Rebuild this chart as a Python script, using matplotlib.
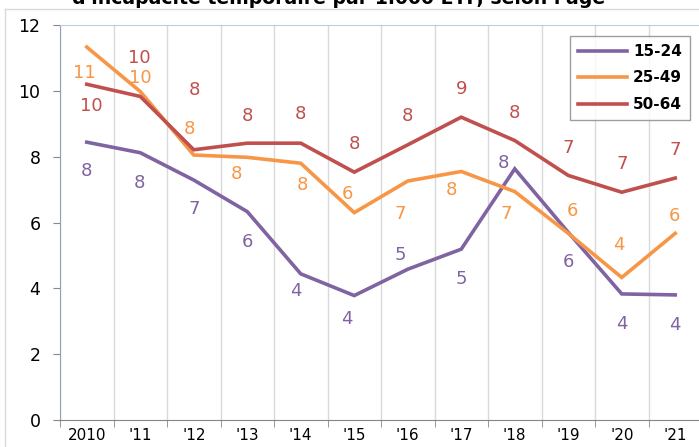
import matplotlib
matplotlib.use("Agg")
import matplotlib.pyplot as plt
from matplotlib.lines import Line2D
import numpy as np

# ---- data ----
years = ["2010", "'11", "'12", "'13", "'14", "'15", "'16", "'17", "'18", "'19", "'20", "'21"]
series_names = ["15-24", "25-49", "50-64"]
v_15_24 = [8.44, 8.12, 7.29, 6.33, 4.44, 3.78, 4.58, 5.19, 7.63, 5.70, 3.83, 3.80]
v_25_49 = [11.33, 9.98, 8.05, 7.98, 7.80, 6.30, 7.26, 7.55, 6.94, 5.67, 4.33, 5.67]
v_50_64 = [10.20, 9.83, 8.21, 8.41, 8.41, 7.53, 8.36, 9.20, 8.49, 7.43, 6.92, 7.35]
title = "d'incapacité temporaire par 1.000 ETP, selon l'âge"

# ---- style / layout ----
colors = ["#8064A2", "#F79646", "#C0504D"]
# label offsets in pixels (dx right, dy down)
off_15_24 = [(0, 29), (-1, 30), (0, 29), (0, 30), (-5, 17), (-7, 23), (-7, -14), (0, 30),
             (-11, -6), (0, 30), (0, 30), (0, 30)]
off_25_49 = [(-2, 26), (0, -13), (-4, -26), (-11, 17), (2, 22), (-7, -19), (-8, 33), (-10, 19),
             (-9, 22), (4, -22), (-3, -32), (-1, -17)]
off_50_64 = [(5, 22), (-1, -38), (1, -60), (0, -27), (0, -29), (0, -28), (0, -29), (0, -28),
             (0, -28), (0, -27), (0, -28), (0, -28)]

W, H = 699, 447
fig = plt.figure(figsize=(W / 100, H / 100), dpi=100)
ax = fig.add_axes([60 / W, 1 - 420 / H, 642 / W, 395 / H])

x = np.arange(len(years))
all_vals = [v_15_24, v_25_49, v_50_64]
all_offs = [off_15_24, off_25_49, off_50_64]
for name, vals, col, offs in zip(series_names, all_vals, colors, all_offs):
    ax.plot(x, vals, color=col, lw=2.6, label=name, solid_joinstyle="miter", zorder=3)
    for xi, v, (dx, dy) in zip(x, vals, offs):
        ax.annotate(f"{v:.0f}", (xi, v), xytext=(dx, -dy), textcoords="offset pixels",
                    ha="center", va="center", color=col, fontsize=13, zorder=4)

ax.set_xlim(-0.5, len(years) - 0.5)
ax.set_ylim(0, 12)
ax.set_yticks(range(0, 13, 2))
ax.set_xticks(x)
ax.set_xticklabels(years)
ax.set_xticks(np.arange(-0.5, len(years), 1.0), minor=True)
ax.grid(which="minor", axis="x", color="#D9D9D9", lw=1)
ax.tick_params(axis="x", which="major", length=0, labelsize=11, pad=6)
ax.tick_params(axis="x", which="minor", length=5, color="#868686", direction="out")
ax.tick_params(axis="y", length=5, color="#868686", labelsize=12.5, pad=9)
ax.spines["left"].set_color("#8EA0BC")
ax.spines["bottom"].set_color("#868686")
ax.spines["top"].set_color("#B9CDE5")
ax.spines["right"].set_visible(False)

leg = ax.legend(loc="upper right", bbox_to_anchor=(698 / W, 1 - 28 / H),
                bbox_transform=fig.transFigure, frameon=True, fancybox=False,
                handlelength=3.2, handletextpad=0.4, labelspacing=0.75,
                borderpad=0.55, prop={"weight": "bold", "size": 11})
leg.get_frame().set_edgecolor("#868686")
leg.get_frame().set_linewidth(1)

# outer chart border
fig.add_artist(Line2D([5 / W, 5 / W], [0, 1 - 9 / H], transform=fig.transFigure,
                      color="#D9D9D9", lw=1))
fig.add_artist(Line2D([5 / W, 1], [1 - 9 / H, 1 - 9 / H], transform=fig.transFigure,
                      color="#D9D9D9", lw=1))

fig.text(339 / W, 1 - 4 / H, title, ha="center", va="baseline",
         fontsize=13.6, fontweight="bold")

fig.savefig("out.png", dpi=100)
